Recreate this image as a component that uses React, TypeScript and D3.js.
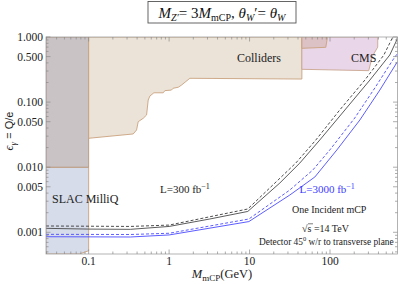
import React, { useRef, useEffect } from 'react'
import * as d3 from 'd3'

type Pt = [number, number]

const width = 399
const height = 284
const margin = { top: 37, right: 1.5, bottom: 30, left: 46 }

// axis ticks
const yTickValues = [0.001, 0.005, 0.01, 0.05, 0.1, 0.5, 1]
const yTickLabels = ['0.001', '0.005', '0.010', '0.050', '0.100', '0.500', '1.000']
const xTickValues = [0.1, 1, 10, 100]
const xTickLabels = ['0.1', '1', '10', '100']

// excluded regions (M_mCP in GeV, epsilon)
const slacRegion: Pt[] = [
  [0.0295, 0.000464], [0.0295, 0.01], [0.1, 0.01], [0.1, 0.00052], [0.0765, 0.000464],
]
const upperLeftRegion: Pt[] = [
  [0.0295, 0.01], [0.0295, 1], [0.1, 1], [0.1, 0.01],
]
const collidersRegion: Pt[] = [
  [0.1, 1], [0.1, 0.0278], [0.358, 0.0324], [0.394, 0.0373], [0.413, 0.05],
  [0.477, 0.0564], [0.525, 0.0634], [0.55, 0.1077], [0.577, 0.124], [0.647, 0.139],
  [0.845, 0.139], [0.887, 0.15], [1.07, 0.153], [1.12, 0.163], [1.3, 0.169],
  [1.43, 0.183], [1.81, 0.232], [44.7, 0.226], [44.7, 1],
]
const cmsRegion: Pt[] = [
  [44.7, 0.319], [44.7, 1], [392, 1], [392, 0.7], [335, 0.5], [303, 0.304],
]
const upperCmsRegion: Pt[] = [
  [44.7, 1], [93, 1], [88.7, 0.694], [44.7, 0.67],
]

// reach curves
const l300Solid: Pt[] = [
  [0.0295, 0.00115], [0.1, 0.00112], [0.33, 0.00111], [1.0, 0.00123], [3.2, 0.0016],
  [9.5, 0.00209], [23.8, 0.00572], [42.2, 0.0116], [74.7, 0.0262], [153, 0.0756],
  [313, 0.218], [553, 0.529], [676, 0.9], [690, 1],
]
const l300Dashed: Pt[] = [
  [0.0295, 0.00125], [0.33, 0.00123], [1.0, 0.00129], [9.5, 0.00228], [37.6, 0.0116],
  [66.7, 0.0262], [132, 0.0756], [271, 0.218], [467, 0.529], [603, 1.0],
]
const l3000Solid: Pt[] = [
  [0.0295, 0.000855], [0.33, 0.000847], [1.0, 0.00091], [9.8, 0.00146], [31.7, 0.00374],
  [64.8, 0.00707], [121.6, 0.0184], [235, 0.0531], [416, 0.153], [690, 0.42],
]
const l3000Dashed: Pt[] = [
  [0.0295, 0.00093], [0.33, 0.000925], [1.0, 0.000966], [9.8, 0.0016], [31.7, 0.00447],
  [61.2, 0.00906], [99.5, 0.0184], [203, 0.057], [361, 0.165], [603, 0.443], [690, 0.56],
]

const serif = 'Liberation Serif'

const App: React.FC = () => {
  const svgRef = useRef<SVGSVGElement | null>(null)

  useEffect(() => {
    if (!svgRef.current) return
    const svg = d3.select(svgRef.current)
    svg.selectAll('*').remove()

    const iw = width - margin.left - margin.right
    const ih = height - margin.top - margin.bottom

    const x = d3.scaleLog().domain([0.0295, 690]).range([0, iw])
    const y = d3.scaleLog().domain([0.000464, 1]).range([ih, 0])

    const chart = svg.append('g')
      .attr('transform', `translate(${margin.left},${margin.top})`)

    chart.append('defs').append('clipPath')
      .attr('id', 'plotclip')
      .append('rect')
      .attr('width', iw)
      .attr('height', ih)

    const plot = chart.append('g').attr('clip-path', 'url(#plotclip)')

    const area = d3.line<Pt>().x(d => x(d[0])).y(d => y(d[1]))

    const region = (pts: Pt[], fill: string, stroke: string) =>
      plot.append('path')
        .attr('d', area(pts) + 'Z')
        .attr('fill', fill)
        .attr('stroke', stroke)
        .attr('stroke-width', 0.9)

    region(slacRegion, '#d6dcea', '#c9a27e')
    region(upperLeftRegion, '#c9c3c6', '#b8967a')
    region(collidersRegion, '#ebe3d8', '#c9a27e')
    region(cmsRegion, '#e9d6e8', '#c9a58f')
    region(upperCmsRegion, '#dcc1c5', '#c9a27e')

    const curve = (pts: Pt[], color: string, dash: string | null, w: number) => {
      const p = plot.append('path')
        .datum(pts)
        .attr('d', area)
        .attr('fill', 'none')
        .attr('stroke', color)
        .attr('stroke-width', w)
      if (dash) p.attr('stroke-dasharray', dash)
    }
    curve(l300Dashed, '#3a3a3a', '3,2', 0.9)
    curve(l300Solid, '#4a4a4a', null, 0.9)
    curve(l3000Dashed, '#4b4bff', '3,2', 0.9)
    curve(l3000Solid, '#4b4bff', null, 0.9)

    // frame
    chart.append('rect')
      .attr('width', iw)
      .attr('height', ih)
      .attr('fill', 'none')
      .attr('stroke', '#a0a0a0')
      .attr('stroke-width', 0.8)

    // ticks (all four sides, inward)
    const tickCol = '#8a8a8a'
    const yMinor = y.ticks().filter(v => v >= 0.000464 && v <= 1)
    const xMinor = x.ticks().filter(v => v >= 0.0295 && v <= 690)
    const isMajorY = (v: number) => yTickValues.some(t => Math.abs(t - v) / t < 1e-6)
    const isMajorX = (v: number) => xTickValues.some(t => Math.abs(t - v) / t < 1e-6)

    yMinor.forEach(v => {
      const len = isMajorY(v) ? 4.5 : 2.5
      chart.append('line').attr('x1', 0).attr('x2', len).attr('y1', y(v)).attr('y2', y(v))
        .attr('stroke', tickCol).attr('stroke-width', 0.7)
      chart.append('line').attr('x1', iw).attr('x2', iw - len).attr('y1', y(v)).attr('y2', y(v))
        .attr('stroke', tickCol).attr('stroke-width', 0.7)
    })
    xMinor.forEach(v => {
      const len = isMajorX(v) ? 4.5 : 2.5
      chart.append('line').attr('y1', ih).attr('y2', ih - len).attr('x1', x(v)).attr('x2', x(v))
        .attr('stroke', tickCol).attr('stroke-width', 0.7)
      chart.append('line').attr('y1', 0).attr('y2', len).attr('x1', x(v)).attr('x2', x(v))
        .attr('stroke', tickCol).attr('stroke-width', 0.7)
    })

    // tick labels
    yTickValues.forEach((v, i) => {
      chart.append('text')
        .attr('x', -3)
        .attr('y', y(v) + 4)
        .attr('text-anchor', 'end')
        .attr('font-family', serif)
        .attr('font-size', 11.5)
        .attr('fill', '#222')
        .text(yTickLabels[i])
    })
    xTickValues.forEach((v, i) => {
      chart.append('text')
        .attr('x', x(v))
        .attr('y', ih + 11)
        .attr('text-anchor', 'middle')
        .attr('font-family', serif)
        .attr('font-size', 11.5)
        .attr('fill', '#222')
        .text(xTickLabels[i])
    })

    // labels inside plot
    const label = (tx: number, ty: number, s: string, size: number, color = '#222') =>
      svg.append('text')
        .attr('x', tx).attr('y', ty)
        .attr('font-family', serif)
        .attr('font-size', size)
        .attr('fill', color)
        .text(s)

    label(237, 62, 'Colliders', 12)
    label(351, 62, 'CMS', 12)
    label(52, 203, 'SLAC MilliQ', 12)

    const l300 = label(160, 193, 'L=300 fb', 11)
    l300.append('tspan').attr('dy', -4).attr('font-size', 8).text('\u22121')
    const l3000 = label(299.5, 193, 'L=3000 fb', 11, '#3c3cff')
    l3000.append('tspan').attr('dy', -4).attr('font-size', 8).text('\u22121')

    label(292, 213, 'One Incident mCP', 10)
    label(302, 232, '\u221As =14 TeV', 10)
    svg.append('line')
      .attr('x1', 308).attr('x2', 313).attr('y1', 223.8).attr('y2', 223.8)
      .attr('stroke', '#222').attr('stroke-width', 0.6)
    const det = label(259, 245, 'Detector 45', 9.4)
    det.append('tspan').attr('dy', -4).attr('font-size', 6.5).text('0')
    det.append('tspan').attr('dy', 4).text(' w/r to transverse plane')

    // title box
    svg.append('rect')
      .attr('x', 148).attr('y', 1.5).attr('width', 148).attr('height', 21.5)
      .attr('fill', '#fff').attr('stroke', '#555').attr('stroke-width', 0.9)
    const title = svg.append('text')
      .attr('x', 222).attr('y', 18)
      .attr('text-anchor', 'middle')
      .attr('font-family', serif)
      .attr('font-size', 15)
      .attr('fill', '#111')
    title.append('tspan').attr('font-style', 'italic').text('M')
    title.append('tspan').attr('dy', 3).attr('font-size', 10).attr('font-style', 'italic').text('Z\u2032')
    title.append('tspan').attr('dy', -3).text('= 3')
    title.append('tspan').attr('font-style', 'italic').text('M')
    title.append('tspan').attr('dy', 3).attr('font-size', 10).text('mCP')
    title.append('tspan').attr('dy', -3).text(', ')
    title.append('tspan').attr('font-style', 'italic').text('\u03B8')
    title.append('tspan').attr('dy', 3).attr('font-size', 10).attr('font-style', 'italic').text('W')
    title.append('tspan').attr('dy', -3).text('\u2032= ')
    title.append('tspan').attr('font-style', 'italic').text('\u03B8')
    title.append('tspan').attr('dy', 3).attr('font-size', 10).attr('font-style', 'italic').text('W')

    // axis titles
    const xl = svg.append('text')
      .attr('x', 222).attr('y', 278)
      .attr('text-anchor', 'middle')
      .attr('font-family', serif)
      .attr('font-size', 12.5)
      .attr('fill', '#222')
    xl.append('tspan').attr('font-style', 'italic').text('M')
    xl.append('tspan').attr('dy', 3).attr('font-size', 9).text('mCP')
    xl.append('tspan').attr('dy', -3).text('(GeV)')

    const yl = svg.append('text')
      .attr('transform', 'rotate(-90)')
      .attr('x', -131).attr('y', 13)
      .attr('text-anchor', 'middle')
      .attr('font-family', serif)
      .attr('font-size', 12.5)
      .attr('fill', '#222')
    yl.append('tspan').attr('font-style', 'italic').text('\u03F5')
    yl.append('tspan').attr('dy', 3).attr('font-size', 9).attr('font-style', 'italic').text('\u03B3')
    yl.append('tspan').attr('dy', -3).attr('font-family', 'Liberation Sans').attr('font-size', 11).text(' = Q/e')
  }, [])

  return (
    <svg ref={svgRef} width={width} height={height}
      style={{ position: 'absolute', left: 0, top: 0, background: '#fff' }} />
  )
}

export default App
